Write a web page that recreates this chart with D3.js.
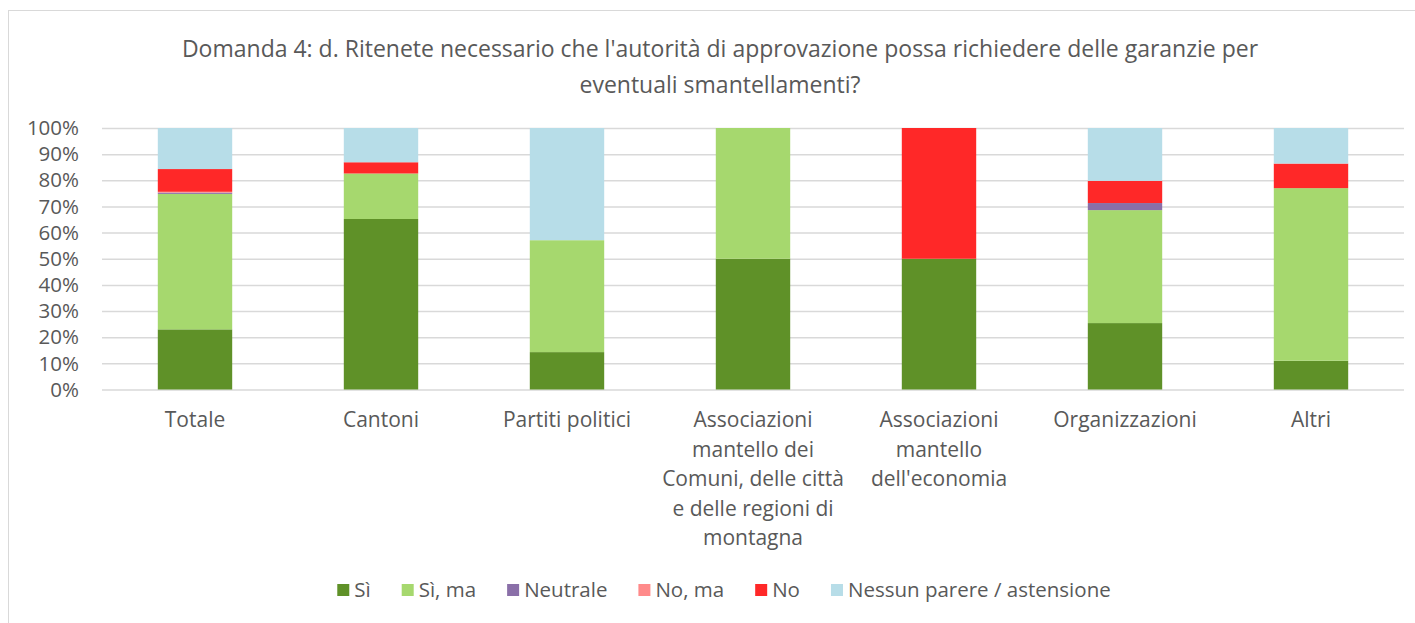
<!DOCTYPE html>
<html>
<head>
<meta charset="utf-8">
<script src="https://cdn.jsdelivr.net/npm/d3@7"></script>
<style>
  body { margin: 0; background: #fff; }
  svg text { font-family: "Open Sans", sans-serif; fill: #595959; }
  .grid line { stroke: #d9d9d9; stroke-width: 1.5; }
  .grid .domain { display: none; }
</style>
</head>
<body>
<div class="chart"></div>
<script>
var categories = ["Totale", "Cantoni", "Partiti politici",
  "Associazioni mantello dei Comuni, delle città e delle regioni di montagna",
  "Associazioni mantello dell'economia", "Organizzazioni", "Altri"];
var categoryLines = [
  ["Totale"], ["Cantoni"], ["Partiti politici"],
  ["Associazioni", "mantello dei", "Comuni, delle città", "e delle regioni di", "montagna"],
  ["Associazioni", "mantello", "dell'economia"],
  ["Organizzazioni"], ["Altri"]
];
var seriesNames = ["Sì", "Sì, ma", "Neutrale", "No, ma", "No", "Nessun parere / astensione"];
var si        = [23.0, 65.2, 14.3, 50, 50, 25.4, 11.0];
var siMa      = [51.8, 17.4, 42.8, 50,  0, 43.2, 66.0];
var neutrale  = [ 0.5,  0,    0,    0,  0,  2.7,  0];
var noMa      = [ 0.3,  0,    0,    0,  0,  0,    0];
var no        = [ 8.7,  4.3,  0,    0, 50,  8.5,  9.4];
var nessun    = [15.7, 13.1, 42.9,  0,  0, 20.2, 13.6];
var yTicks = [0, 10, 20, 30, 40, 50, 60, 70, 80, 90, 100];
var colors = ["#5f9128", "#a6d86e", "#8a6fa8", "#ff8a8a", "#ff2828", "#b7dde8"];
var titleLines = ["Domanda 4: d. Ritenete necessario che l'autorità di approvazione possa richiedere delle garanzie per",
  "eventuali smantellamenti?"];

var width = 1415, height = 623,
    margin = { top: 128, left: 102, right: 11, bottom: 234 };

var rows = categories.map(function(c, i) {
  return { cat: c, "Sì": si[i], "Sì, ma": siMa[i], "Neutrale": neutrale[i],
    "No, ma": noMa[i], "No": no[i], "Nessun parere / astensione": nessun[i] };
});
var stacked = d3.stack().keys(seriesNames)(rows);

var svg = d3.select(".chart").append("svg")
  .attr("width", width).attr("height", height);

svg.append("rect")
  .attr("x", 8.5).attr("y", 10.5)
  .attr("width", width).attr("height", height)
  .attr("fill", "none").attr("stroke", "#d9d9d9");

var xScale = d3.scaleBand().domain(categories)
  .range([margin.left, width - margin.right]).paddingInner(0.6).paddingOuter(0.3);
var yScale = d3.scaleLinear().domain([0, 100])
  .range([height - margin.bottom + 0.5, margin.top]);

// title
svg.append("g").selectAll("text").data(titleLines).enter().append("text")
  .attr("x", 720).attr("y", function(d, i) { return 57 + i * 36; })
  .attr("text-anchor", "middle").style("font-size", "23px")
  .text(function(d) { return d; });

// gridlines + y labels
svg.append("g").attr("class", "grid")
  .attr("transform", "translate(" + margin.left + ",0)")
  .call(d3.axisRight(yScale).tickValues(yTicks)
    .tickSize(width - margin.left - margin.right).tickFormat(""));

svg.append("g").selectAll("text").data(yTicks).enter().append("text")
  .attr("x", 79).attr("y", function(d) { return yScale(d); })
  .attr("dy", "0.35em").attr("text-anchor", "end").style("font-size", "20.5px")
  .text(function(d) { return d + "%"; });

// bars
svg.append("g").selectAll("g").data(stacked).enter().append("g")
  .attr("fill", function(d, i) { return colors[i]; })
  .selectAll("rect").data(function(d) { return d; }).enter().append("rect")
    .attr("x", function(d) { return xScale(d.data.cat); })
    .attr("width", xScale.bandwidth())
    .attr("y", function(d) { return yScale(d[1]); })
    .attr("height", function(d) { return yScale(d[0]) - yScale(d[1]); });

// category labels
var labels = svg.append("g").selectAll("text").data(categories).enter().append("text")
  .attr("text-anchor", "middle").style("font-size", "21px")
  .attr("transform", function(d) { return "translate(" + (xScale(d) + xScale.bandwidth() / 2) + ",427)"; });
labels.selectAll("tspan").data(function(d, i) { return categoryLines[i]; }).enter().append("tspan")
  .attr("x", 0).attr("y", function(d, i) { return i * 29.5; })
  .text(function(d) { return d; });

// legend
var legend = svg.append("g");
var lx = 0, gap = 31;
seriesNames.forEach(function(name, i) {
  var item = legend.append("g").attr("transform", "translate(" + lx + ",0)");
  item.append("rect").attr("x", 0).attr("y", -6).attr("width", 12).attr("height", 12)
    .attr("fill", colors[i]);
  var t = item.append("text").attr("x", 17).attr("y", 0).attr("dy", "0.35em")
    .style("font-size", "20.5px").text(name);
  lx += 17 + t.node().getComputedTextLength() + gap;
});
lx -= gap;
legend.attr("transform", "translate(" + (724 - lx / 2) + ",590)");
</script>
</body>
</html>
